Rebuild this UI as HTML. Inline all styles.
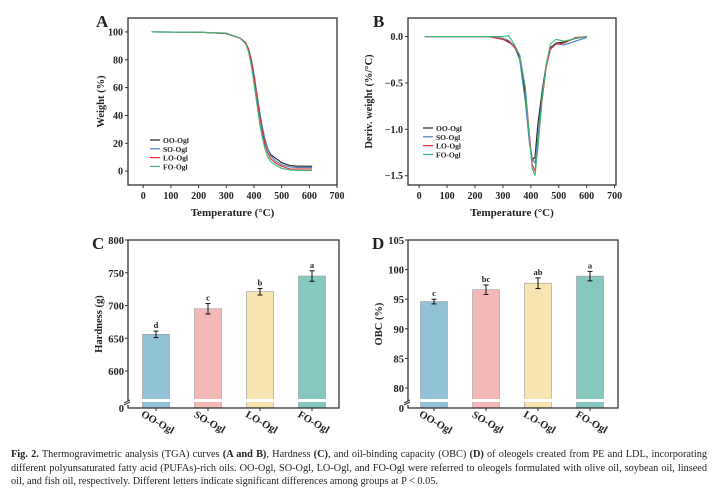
<!DOCTYPE html>
<html><head><meta charset="utf-8"><style>
body{margin:0;background:#fff;width:724px;height:499px;overflow:hidden}
svg{position:absolute;left:0;top:0}
.t{font-family:"Liberation Serif",serif;font-weight:bold;fill:#222}
#cap{position:absolute;left:11px;top:448px;width:696px;font-family:"Liberation Serif",serif;font-size:10.3px;line-height:13.5px;color:#222;text-align:justify;text-align-last:left}
</style></head><body>
<svg id="s" width="724" height="499"></svg>
<div id="cap"><b>Fig. 2.</b> Thermogravimetric analysis (TGA) curves <b>(A and B)</b>, Hardness <b>(C)</b>, and oil-binding capacity (OBC) <b>(D)</b> of oleogels created from PE and LDL, incorporating different polyunsaturated fatty acid (PUFAs)-rich oils. OO-Ogl, SO-Ogl, LO-Ogl, and FO-Ogl were referred to oleogels formulated with olive oil, soybean oil, linseed oil, and fish oil, respectively. Different letters indicate significant differences among groups at P &lt; 0.05.</div>
<script>
const seriesNames=["OO-Ogl","SO-Ogl","LO-Ogl","FO-Ogl"];
const lineColors=["#222222","#4a7fc1","#e03030","#3cb878"];
const tgaT=[30,200,300,350,370,380,390,400,410,420,430,440,450,460,480,500,530,560,610];
const tgaOO=[100,99.8,98.8,95.5,92,88,80,68,55,42,30,22,16,12,9,6,4,3.5,3.5];
const tgaSO=[100,99.8,98.9,95.5,92,88,81,70,57,44,32,23,16,11,7,4.5,3,2.5,2.5];
const tgaLO=[100,99.8,99,95.6,92.5,88,80,68,54,40,28,19,13,9,5.5,3.5,1.5,1.5,1.5];
const tgaFO=[100,99.8,99.2,95.5,91.5,86,76,63,49,35,24,16,10,7,4,2,0.8,0.5,0.5];
const dtgT=[20,250,300,320,340,360,380,395,405,415,425,440,455,470,490,520,560,600];
const dtgOO=[0,0,-0.03,-0.06,-0.1,-0.22,-0.62,-1.1,-1.33,-1.3,-0.95,-0.6,-0.3,-0.12,-0.07,-0.06,-0.02,0];
const dtgSO=[0,0,-0.02,-0.04,-0.1,-0.25,-0.7,-1.15,-1.33,-1.36,-1.1,-0.65,-0.32,-0.14,-0.08,-0.09,-0.05,-0.01];
const dtgLO=[0,0,-0.03,-0.05,-0.11,-0.2,-0.55,-1.05,-1.38,-1.45,-1.2,-0.7,-0.33,-0.13,-0.08,-0.07,-0.01,0];
const dtgFO=[0,0,0,0.01,-0.08,-0.2,-0.55,-1.1,-1.42,-1.5,-1.2,-0.68,-0.3,-0.08,-0.03,-0.05,-0.02,0];
const hardness=[656,695,721,745];
const hardErr=[5,8,5,8];
const hardLetters=["d","c","b","a"];
const obc=[94.6,96.6,97.7,98.9];
const obcErr=[0.4,0.8,0.9,0.8];
const obcLetters=["c","bc","ab","a"];
const xTicks=[0,100,200,300,400,500,600,700];
const tgaYTicks=[0,20,40,60,80,100];
const dtgYTicks=[0,-0.5,-1,-1.5];
const hardTicks=[600,650,700,750,800];
const obcTicks=[80,85,90,95,100,105];
const barColors=["#92c2d8","#f4b9b7","#f8e4b0","#86c7bf"];

const S=document.getElementById('s');const NS="http://www.w3.org/2000/svg";
function el(tag,attrs,txt){const e=document.createElementNS(NS,tag);for(const k in attrs)e.setAttribute(k,attrs[k]);if(txt!==undefined)e.textContent=txt;S.appendChild(e);return e;}
function text(x,y,s,size,name,anchor,extra){const e=el('text',Object.assign({x:x,y:y,class:'t','font-size':size,'text-anchor':anchor||'middle'},extra||{}),s);

return e;}
function box(x0,y0,x1,y1,name){const r=el('rect',{x:x0,y:y0,width:x1-x0,height:y1-y0,fill:'none',stroke:'#333','stroke-width':1.3});

}

function linePanel(o){
 const sx=v=>o.x0+(v-o.xmin)/(o.xmax-o.xmin)*(o.x1-o.x0);
 const sy=v=>o.y1-(v-o.ymin)/(o.ymax-o.ymin)*(o.y1-o.y0);
 box(o.x0,o.y0,o.x1,o.y1,o.id+'-plot-frame');
 xTicks.forEach(t=>{el('line',{x1:sx(t),x2:sx(t),y1:o.y1,y2:o.y1+3,stroke:'#333'});text(sx(t),o.y1+14,t,10,o.id+'-x-tick');});
 o.yt.forEach(t=>{el('line',{x1:o.x0,x2:o.x0-3,y1:sy(t),y2:sy(t),stroke:'#333'});text(o.x0-5,sy(t)+3.5,o.fmt(t),10,o.id+'-y-tick','end');});
 o.series.forEach((ser,i)=>{const d=o.xs.map((x,j)=>(j?'L':'M')+sx(x).toFixed(1)+','+sy(ser[j]).toFixed(1)).join('');
  const p=el('path',{d:d,fill:'none',stroke:lineColors[i],'stroke-width':1.1});
  
  
  const ly=o.ly+i*8.8;el('line',{x1:o.lx,x2:o.lx+10,y1:ly,y2:ly,stroke:lineColors[i],'stroke-width':1.2});
  text(o.lx+13,ly+3,seriesNames[i],7.5,o.id+'-legend-entry','start');});
 text((o.x0+o.x1)/2,o.y1+31,'Temperature (°C)',11,o.id+'-x-axis-title');
 text(0,0,o.ytitle,10.5,o.id+'-y-axis-title','middle',{transform:`translate(${o.tx},${(o.y0+o.y1)/2}) rotate(-90)`});
 text(o.lblx,o.y0+9,o.id.toUpperCase(),17,'panel-label-'+o.id,'start');
}
linePanel({id:'a',x0:128,x1:337,y0:18,y1:185,xmin:-55,xmax:700,ymin:-10,ymax:110,yt:tgaYTicks,fmt:t=>t,xs:tgaT,series:[tgaOO,tgaSO,tgaLO,tgaFO],lx:150,ly:140,ytitle:'Weight (%)',tx:104,lblx:96});
linePanel({id:'b',x0:408,x1:616,y0:18,y1:185,xmin:-40,xmax:705,ymin:-1.6,ymax:0.2,yt:dtgYTicks,fmt:t=>t.toFixed(1).replace('-','−'),xs:dtgT,series:[dtgOO,dtgSO,dtgLO,dtgFO],lx:423,ly:128,ytitle:'Deriv. weight (%/°C)',tx:372,lblx:373});

function barPanel(o){
 const sy=v=>o.y0+(o.ymax-v)/(o.ymax-o.ymin)*(o.ymaxY-o.y0);
 const bw=27;
 o.vals.forEach((v,i)=>{const cx=o.cx[i];
  const r=el('rect',{x:cx-bw/2,y:sy(v),width:bw,height:o.y1-sy(v),fill:barColors[i],stroke:'#9a9a9a','stroke-width':0.6});
  
  
  const t=sy(v+o.err[i]),b=sy(v-o.err[i]);
  el('line',{x1:cx,x2:cx,y1:t,y2:b,stroke:'#111','stroke-width':1});
  el('line',{x1:cx-2.5,x2:cx+2.5,y1:t,y2:t,stroke:'#111'});el('line',{x1:cx-2.5,x2:cx+2.5,y1:b,y2:b,stroke:'#111'});
  text(cx,t-3,o.letters[i],8.5,o.id+'-significance-letter');
  text(0,0,seriesNames[i],10.5,o.id+'-x-tick','middle',{transform:`translate(${cx},${o.y1+17}) rotate(30)`});
  el('line',{x1:cx,x2:cx,y1:o.y1,y2:o.y1+3,stroke:'#333'});
 });
 el('rect',{x:o.x0+1,y:o.y1-9,width:o.x1-o.x0-2,height:3,fill:'#fff'});
 box(o.x0,o.y0,o.x1,o.y1,o.id+'-plot-frame');
 o.ticks.forEach(t=>{el('line',{x1:o.x0,x2:o.x0-3,y1:sy(t),y2:sy(t),stroke:'#333'});text(o.x0-4,sy(t)+4,t,10.5,o.id+'-y-tick','end');});
 text(o.x0-4,o.y1+4,'0',10.5,o.id+'-y-tick-zero','end');
 el('rect',{x:o.x0-3,y:o.y1-7,width:6,height:4,fill:'#fff'});
 el('line',{x1:o.x0-4,x2:o.x0+2,y1:o.y1-3,y2:o.y1-6,stroke:'#333'});el('line',{x1:o.x0-4,x2:o.x0+2,y1:o.y1-5,y2:o.y1-8,stroke:'#333'});
 text(0,0,o.ytitle,10.5,o.id+'-y-axis-title','middle',{transform:`translate(${o.tx},${(o.y0+o.y1)/2}) rotate(-90)`});
 text(o.lblx,o.y0+9,o.id.toUpperCase(),17,'panel-label-'+o.id,'start');
}
barPanel({id:'c',x0:128,x1:339,y0:240,y1:408,ymin:600,ymax:800,ymaxY:371,vals:hardness,err:hardErr,letters:hardLetters,ticks:hardTicks,cx:[156,208,260,312],ytitle:'Hardness (g)',tx:102,lblx:92});
barPanel({id:'d',x0:408,x1:618,y0:240,y1:408,ymin:80,ymax:105,ymaxY:388,vals:obc,err:obcErr,letters:obcLetters,ticks:obcTicks,cx:[434,486,538,590],ytitle:'OBC (%)',tx:382,lblx:372});
</script>
</body></html>
